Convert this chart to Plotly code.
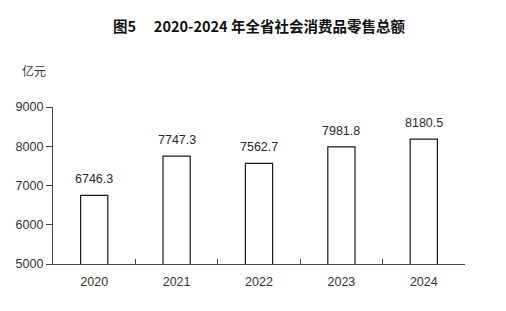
import plotly.graph_objects as go

years = ["2020", "2021", "2022", "2023", "2024"]
sales = [6746.3, 7747.3, 7562.7, 7981.8, 8180.5]
y_ticks = [5000, 6000, 7000, 8000, 9000]

fig = go.Figure()
fig.add_trace(go.Bar(
    x=years, y=sales, width=0.33,
    marker=dict(color="white", line=dict(color="#1a1a1a", width=1.2)),
    showlegend=False, hoverinfo="skip",
))
for i, v in enumerate(sales):
    fig.add_annotation(x=i, y=v, text=f"{v:.1f}", showarrow=False,
                       yanchor="bottom", yshift=7,
                       font=dict(family="Liberation Sans, Arial", size=12.5, color="#2a2a2a"))

fig.add_annotation(text="<b>图5\u2003 2020-2024 年全省社会消费品零售总额</b>", xref="paper", yref="paper",
                   x=0.5, y=1, yshift=82, xanchor="center", yanchor="middle", showarrow=False,
                   font=dict(family="Noto Sans CJK SC", size=14.5, color="#111"),
                   )
fig.add_annotation(text="亿元", xref="paper", yref="paper", x=0, xshift=-33, y=1, yshift=37,
                   xanchor="left", yanchor="middle", showarrow=False,
                   font=dict(family="Noto Sans CJK SC", size=12, color="#333"))

fig.update_layout(
    width=506, height=311,
    margin=dict(l=53, r=41, t=107, b=47),
    plot_bgcolor="white", paper_bgcolor="white",
    font=dict(family="Liberation Sans, Arial", size=12, color="#333"),
)
fig.update_xaxes(
    type="category", range=[-0.5, 4.5], showgrid=False, showline=True, linecolor="#444", linewidth=1.2,
    ticks="inside", tickson="boundaries", ticklen=5, tickcolor="#444",
    ticklabelstandoff=6, tickfont=dict(size=12.5),
)
fig.update_yaxes(
    range=[5000, 9000], tickvals=y_ticks, showgrid=False, zeroline=False,
    showline=True, linecolor="#444", linewidth=1.2, ticks="outside", ticklen=6,
    tickcolor="#444", tickfont=dict(size=12.5),
)
fig.write_html("out.html")
